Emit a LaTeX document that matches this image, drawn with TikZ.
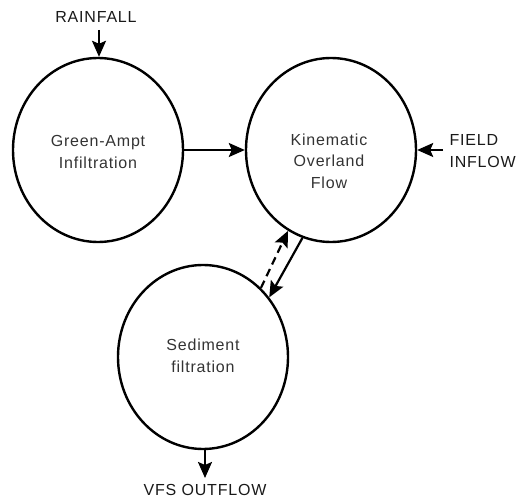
\documentclass[tikz,border=0pt]{standalone}
\usepackage{fontspec}
\setmainfont[LetterSpace=5]{Liberation Sans}
\usetikzlibrary{shapes.geometric,arrows.meta}
\begin{document}
\begin{tikzpicture}[x=1pt,y=-1pt,
  blob/.style={ellipse,draw,line width=2.4pt,inner sep=0pt,minimum width=170pt,minimum height=184pt},
  inner/.style={font=\fontsize{16}{21.5}\selectfont,text=black!80,align=center},
  outer/.style={font=\fontsize{16}{21.5}\selectfont,text=black!90},
  flow/.style={line width=2.2pt,-{Stealth[length=16pt,width=14pt,inset=3pt]}}]
\useasboundingbox (0,0) rectangle (517,500);
\node[blob] (g) at (98,150) {};
\node[blob] (k) at (331,150) {};
\node[blob] (s) at (203,357) {};
\node[inner] (gt) at (98,152) {Green-Ampt\\Infiltration};
\node[inner] (kt) at (329,161) {Kinematic\\Overland\\Flow};
\node[inner] (st) at (203,356) {Sediment\\filtration};
\node[outer] (rain) at (96,17) {RAINFALL};
\coordinate (rs) at (99,30);
\draw[flow] (rs) -- (rs |- g.north);
\draw[flow] (g.east) -- (k.west);
\node[outer,align=left,anchor=west] (field) at (446,151) {FIELD\\INFLOW};
\coordinate (fs) at (443,150);
\draw[flow] (fs) -- (k.east);
\draw[flow] (k.252) -- (s.42);
\draw[flow,dashed,dash pattern=on 8pt off 5pt] (s.50) -- (k.242);
\coordinate (os) at (205,478);
\draw[flow] (s.south -| os) -- (os);
\node[outer] (vfs) at (205,490) {VFS OUTFLOW};
\end{tikzpicture}
\end{document}
